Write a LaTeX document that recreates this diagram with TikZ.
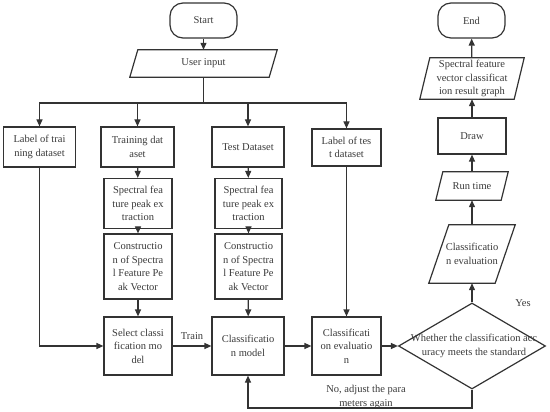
\documentclass[tikz,border=0pt]{standalone}
\usepackage{fontspec}
\setmainfont{Liberation Serif}
\usetikzlibrary{arrows.meta,shapes.geometric,calc}
\definecolor{ln}{HTML}{333333}
\definecolor{tx}{HTML}{3A3A3A}
\begin{document}
\begin{tikzpicture}[x=1pt,y=-1pt,
  every node/.style={font=\fontsize{10.5pt}{13.5pt}\selectfont,text=tx,align=center,inner sep=0pt},
  box/.style={draw=ln,line width=1.2pt,rectangle,minimum width=#1},
  box/.default=68,
  term/.style={draw=ln,line width=1.2pt,rectangle,rounded corners=13pt,minimum width=67,minimum height=35},
  para/.style={rectangle,minimum width=#1},
  pline/.style={draw=ln,line width=1.2pt,line join=miter},
  arr/.style={draw=ln,line width=1.2pt,-{Triangle[length=7pt,width=6pt]}},
  ln/.style={draw=ln,line width=1.2pt}]
\useasboundingbox (0,0) rectangle (550,412);

% left-hand flow
\node[term] (start) at (203.5,20.5) {Start};
\node[para=139,minimum height=27] (input) at (203.5,63.5) {User input};
\draw[pline] ([xshift=4pt]input.north west) -- ([xshift=4pt]input.north east) -- ([xshift=-4pt]input.south east) -- ([xshift=-4pt]input.south west) -- cycle;

\coordinate (bus) at (203.5,103);

\node[box=72,minimum height=40] (lt) at (39.5,147) {Label of trai\\ning dataset};
\node[box=73,minimum height=40] (tr) at (137.5,147) {Training dat\\aset};
\node[box=72,minimum height=40] (te) at (248,147) {Test Dataset};
\node[box=69,minimum height=37] (lte) at (346.5,147.5) {Label of tes\\t dataset};

\node[box=68,minimum height=50] (sp1) at (138,203.5) {Spectral fea\\ture peak ex\\traction};
\node[box=67,minimum height=50] (sp2) at (248.5,203.5) {Spectral fea\\ture peak ex\\traction};

\node[box=68,minimum height=65] (co1) at (138,266.5) {Constructio\\n of Spectra\\l Feature Pe\\ak Vector};
\node[box=67,minimum height=65] (co2) at (248.5,266.5) {Constructio\\n of Spectra\\l Feature Pe\\ak Vector};

\node[box=68,minimum height=58] (sel) at (138,346) {Select classi\\fication mo\\del};
\node[box=72,minimum height=58] (cm) at (248,346) {Classificatio\\n model};
\node[box=69,minimum height=58] (ce) at (346.5,346) {Classificati\\on evaluatio\\n};

\node[diamond,draw=ln,line width=1.2pt,minimum width=147,minimum height=86] (dia) at (472,346) {};
\node (diat) at (474,346) {Whether the classification acc\\uracy meets the standard};

% right-hand column
\node[para=66,minimum height=58] (ev) at (472,254) {Classificatio\\n evaluation};
\draw[pline] ([xshift=10pt]ev.north west) -- ([xshift=10pt]ev.north east) -- ([xshift=-10pt]ev.south east) -- ([xshift=-10pt]ev.south west) -- cycle;

\node[para=65,minimum height=28] (rt) at (472,186) {Run time};
\draw[pline] ([xshift=3.5pt]rt.north west) -- ([xshift=3.5pt]rt.north east) -- ([xshift=-3.5pt]rt.south east) -- ([xshift=-3.5pt]rt.south west) -- cycle;

\node[box=68,minimum height=36] (dr) at (472,136) {Draw};

\node[para=94,minimum height=41] (gr) at (472,78.5) {Spectral feature\\vector classificat\\ion result graph};
\draw[pline] ([xshift=5pt]gr.north west) -- ([xshift=5pt]gr.north east) -- ([xshift=-5pt]gr.south east) -- ([xshift=-5pt]gr.south west) -- cycle;

\node[term] (end) at (471.5,20.5) {End};

% connectors
\draw[arr] (start) -- (input);
\draw[ln] (input.south) -- (bus);
\draw[arr] (bus) -| (lt.north);
\draw[arr] (bus) -| (tr.north);
\draw[arr] (bus) -| (te.north);
\draw[arr] (bus) -| (lte.north);

\draw[arr] (tr) -- (sp1);
\draw[arr] (sp1) -- (co1);
\draw[arr] (co1) -- (sel);
\draw[arr] (te) -- (sp2);
\draw[arr] (sp2) -- (co2);
\draw[arr] (co2) -- (cm);

\draw[arr] (lt.south) |- (sel.west);
\draw[arr] (sel) -- node[above=6pt] (train) {Train} (cm);
\draw[arr] (cm) -- (ce);
\draw[arr] (lte) -- (ce);
\draw[arr] (ce) -- (dia.west);

\draw[arr] (dia.north) -- (ev.south);
\node (yes) at (523,303) {Yes};
\draw[arr] (ev) -- (rt);
\draw[arr] (rt) -- (dr);
\draw[arr] (dr) -- (gr);
\draw[arr] (gr) -- (end);

\coordinate (fb) at (248,408);
\draw[arr] (dia.south) |- (fb) -- (cm.south);
\node (no) at (366,397) {No, adjust the para\\meters again};
\end{tikzpicture}
\end{document}
